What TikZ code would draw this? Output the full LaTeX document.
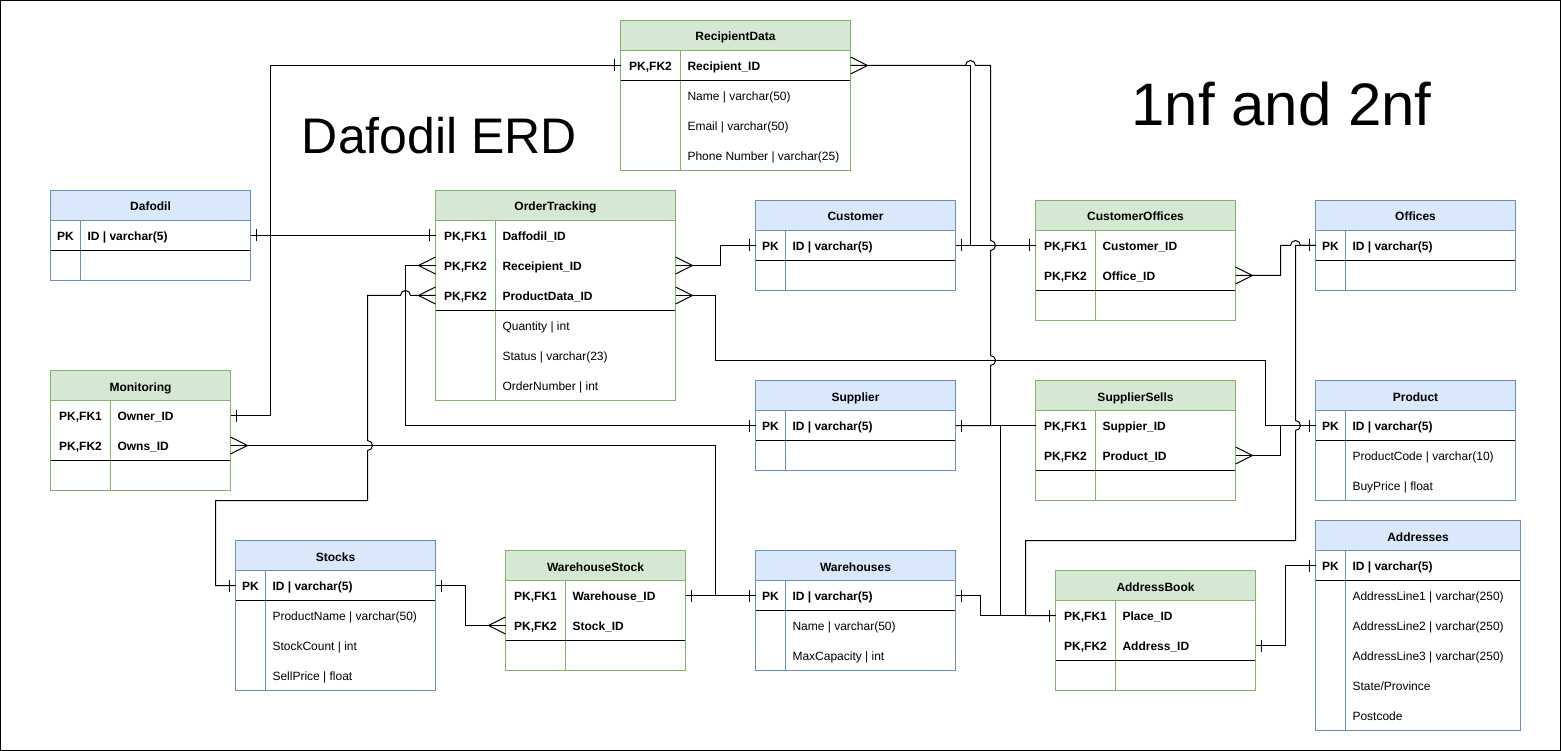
\documentclass[tikz,border=0pt]{standalone}
\usepackage{fontspec}
\setmainfont{Liberation Sans}
\usetikzlibrary{calc}
\definecolor{bfill}{HTML}{DAE8FC}
\definecolor{bline}{HTML}{6C8EBF}
\definecolor{gfill}{HTML}{D5E8D4}
\definecolor{gline}{HTML}{82B366}
\tikzset{
  conn/.style={draw=black, line width=1pt},
  tablebox/.style={anchor=north west, inner sep=0, outer sep=0, fill=white},
  headbox/.style={anchor=north west, inner sep=0, outer sep=0, minimum height=30},
  rowbox/.style={anchor=north west, inner sep=0, outer sep=0, minimum height=30},
  celltext/.style={inner sep=0, outer sep=0, font=\fontsize{12}{14}\selectfont, text=black},
  titletext/.style={inner sep=0, outer sep=0, anchor=base, text=black}
}
% #1 name #2 x #3 y #4 w #5 h #6 keyw #7 theme (b/g) #8 title #9 separator y
\newcommand{\ertable}[9]{%
  \node[tablebox, minimum width=#4, minimum height=#5] (#1) at (#2,#3) {};
  \node[headbox, fill=#7fill, minimum width=#4] (#1-h) at (#2,#3) {};
  \node[celltext, anchor=base, font=\fontsize{12}{14}\selectfont\bfseries] (#1-t) at (#2+#4/2,#3+20.5) {#8};
  \draw[#7line, line width=1pt] (#2+#6,#3+30) -- (#2+#6,#3+#5);
  \draw[black, line width=1pt] (#2,#9) -- (#2+#4,#9);
  \draw[#7line, line width=1pt] (#1.north west) rectangle (#1.south east);
  \draw[#7line, line width=1pt] (#1-h.south west) -- (#1-h.south east);
}
% #1 name #2 x #3 y #4 w #5 keyw #6 key #7 field
\newcommand{\errow}[7]{%
  \node[rowbox, minimum width=#4] (#1) at (#2,#3) {};
  \node[celltext, anchor=base] (#1-k) at (#2+#5/2,#3+20) {#6};
  \node[celltext, anchor=base west] (#1-f) at (#2+#5+7,#3+20) {#7};
}
\newcommand{\oneR}[1]{\draw[conn] ([xshift=6pt,yshift=6pt]#1) -- ([xshift=6pt,yshift=-6pt]#1);}
\newcommand{\oneL}[1]{\draw[conn] ([xshift=-6pt,yshift=6pt]#1) -- ([xshift=-6pt,yshift=-6pt]#1);}
\newcommand{\manyR}[1]{\draw[conn] ([yshift=8.5pt]#1) -- ([xshift=17pt]#1) -- ([yshift=-8.5pt]#1);}
\newcommand{\manyL}[1]{\draw[conn] ([yshift=8.5pt]#1) -- ([xshift=-17pt]#1) -- ([yshift=-8.5pt]#1);}
\begin{document}
\begin{tikzpicture}[x=1pt,y=-1pt]
\fill[white] (0,0) rectangle (1561,751);
\useasboundingbox (0,0) rectangle (1561,751);
\draw[black, line width=1pt] (0.5,0.5) rectangle (1560.5,750.5);

\node[titletext, font=\fontsize{50}{60}\selectfont] (title) at (439.5,154) {Dafodil ERD};
\node[titletext, font=\fontsize{60}{72}\selectfont] (subtitle) at (1281.5,126) {1nf and 2nf};

\begin{scope}[shift={(0.5,0.5)}]
% Dafodil
\ertable{daf}{50}{190}{200}{90}{30}{b}{Dafodil}{250}
\errow{daf-1}{50}{220}{200}{30}{\bfseries PK}{\bfseries ID | varchar(5)}
\errow{daf-2}{50}{250}{200}{30}{}{}
% Monitoring
\ertable{mon}{50}{370}{180}{120}{60}{g}{Monitoring}{460}
\errow{mon-1}{50}{400}{180}{60}{\bfseries PK,FK1}{\bfseries Owner\_ID}
\errow{mon-2}{50}{430}{180}{60}{\bfseries PK,FK2}{\bfseries Owns\_ID}
\errow{mon-3}{50}{460}{180}{60}{}{}
% RecipientData
\ertable{rec}{620}{20}{230}{150}{60}{g}{RecipientData}{80}
\errow{rec-1}{620}{50}{230}{60}{\bfseries PK,FK2}{\bfseries Recipient\_ID}
\errow{rec-2}{620}{80}{230}{60}{}{Name | varchar(50)}
\errow{rec-3}{620}{110}{230}{60}{}{Email | varchar(50)}
\errow{rec-4}{620}{140}{230}{60}{}{Phone Number | varchar(25)}
% OrderTracking
\ertable{ot}{435}{190}{240}{210}{60}{g}{OrderTracking}{310}
\errow{ot-1}{435}{220}{240}{60}{\bfseries PK,FK1}{\bfseries Daffodil\_ID}
\errow{ot-2}{435}{250}{240}{60}{\bfseries PK,FK2}{\bfseries Receipient\_ID}
\errow{ot-3}{435}{280}{240}{60}{\bfseries PK,FK2}{\bfseries ProductData\_ID}
\errow{ot-4}{435}{310}{240}{60}{}{Quantity | int}
\errow{ot-5}{435}{340}{240}{60}{}{Status | varchar(23)}
\errow{ot-6}{435}{370}{240}{60}{}{OrderNumber | int}
% Customer
\ertable{cus}{755}{200}{200}{90}{30}{b}{Customer}{260}
\errow{cus-1}{755}{230}{200}{30}{\bfseries PK}{\bfseries ID | varchar(5)}
\errow{cus-2}{755}{260}{200}{30}{}{}
% CustomerOffices
\ertable{co}{1035}{200}{200}{120}{60}{g}{CustomerOffices}{290}
\errow{co-1}{1035}{230}{200}{60}{\bfseries PK,FK1}{\bfseries Customer\_ID}
\errow{co-2}{1035}{260}{200}{60}{\bfseries PK,FK2}{\bfseries Office\_ID}
\errow{co-3}{1035}{290}{200}{60}{}{}
% Offices
\ertable{off}{1315}{200}{200}{90}{30}{b}{Offices}{260}
\errow{off-1}{1315}{230}{200}{30}{\bfseries PK}{\bfseries ID | varchar(5)}
\errow{off-2}{1315}{260}{200}{30}{}{}
% Supplier
\ertable{sup}{755}{380}{200}{90}{30}{b}{Supplier}{440}
\errow{sup-1}{755}{410}{200}{30}{\bfseries PK}{\bfseries ID | varchar(5)}
\errow{sup-2}{755}{440}{200}{30}{}{}
% SupplierSells
\ertable{ss}{1035}{380}{200}{120}{60}{g}{SupplierSells}{470}
\errow{ss-1}{1035}{410}{200}{60}{\bfseries PK,FK1}{\bfseries Suppier\_ID}
\errow{ss-2}{1035}{440}{200}{60}{\bfseries PK,FK2}{\bfseries Product\_ID}
\errow{ss-3}{1035}{470}{200}{60}{}{}
% Product
\ertable{prod}{1315}{380}{200}{120}{30}{b}{Product}{440}
\errow{prod-1}{1315}{410}{200}{30}{\bfseries PK}{\bfseries ID | varchar(5)}
\errow{prod-2}{1315}{440}{200}{30}{}{ProductCode | varchar(10)}
\errow{prod-3}{1315}{470}{200}{30}{}{BuyPrice | float}
% Addresses
\ertable{addr}{1315}{520}{205}{210}{30}{b}{Addresses}{580}
\errow{addr-1}{1315}{550}{205}{30}{\bfseries PK}{\bfseries ID | varchar(5)}
\errow{addr-2}{1315}{580}{205}{30}{}{AddressLine1 | varchar(250)}
\errow{addr-3}{1315}{610}{205}{30}{}{AddressLine2 | varchar(250)}
\errow{addr-4}{1315}{640}{205}{30}{}{AddressLine3 | varchar(250)}
\errow{addr-5}{1315}{670}{205}{30}{}{State/Province}
\errow{addr-6}{1315}{700}{205}{30}{}{Postcode}
% Stocks
\ertable{stk}{235}{540}{200}{150}{30}{b}{Stocks}{600}
\errow{stk-1}{235}{570}{200}{30}{\bfseries PK}{\bfseries ID | varchar(5)}
\errow{stk-2}{235}{600}{200}{30}{}{ProductName | varchar(50)}
\errow{stk-3}{235}{630}{200}{30}{}{StockCount | int}
\errow{stk-4}{235}{660}{200}{30}{}{SellPrice | float}
% WarehouseStock
\ertable{ws}{505}{550}{180}{120}{60}{g}{WarehouseStock}{640}
\errow{ws-1}{505}{580}{180}{60}{\bfseries PK,FK1}{\bfseries Warehouse\_ID}
\errow{ws-2}{505}{610}{180}{60}{\bfseries PK,FK2}{\bfseries Stock\_ID}
\errow{ws-3}{505}{640}{180}{60}{}{}
% Warehouses
\ertable{wh}{755}{550}{200}{120}{30}{b}{Warehouses}{610}
\errow{wh-1}{755}{580}{200}{30}{\bfseries PK}{\bfseries ID | varchar(5)}
\errow{wh-2}{755}{610}{200}{30}{}{Name | varchar(50)}
\errow{wh-3}{755}{640}{200}{30}{}{MaxCapacity | int}
% AddressBook
\ertable{ab}{1055}{570}{200}{120}{60}{g}{AddressBook}{660}
\errow{ab-1}{1055}{600}{200}{60}{\bfseries PK,FK1}{\bfseries Place\_ID}
\errow{ab-2}{1055}{630}{200}{60}{\bfseries PK,FK2}{\bfseries Address\_ID}
\errow{ab-3}{1055}{660}{200}{60}{}{}

% ---------- connectors ----------
\draw[conn] (daf-1.east) -- (ot-1.west);
\oneR{daf-1.east} \oneL{ot-1.west}

\draw[conn] (mon-1.east) -- (270,415) -- (270,65) -- (rec-1.west);
\oneR{mon-1.east} \oneL{rec-1.west}

\draw[conn] (mon-2.east) -- (715,445) -- (715,595) -- (wh-1.west);
\manyR{mon-2.east} \oneL{wh-1.west}

\draw[conn] (ot-2.west) -- (405,265) -- (405,425) -- (sup-1.west);
\manyL{ot-2.west} \oneL{sup-1.west}

\draw[conn] (ot-2.east) -- (720,265) -- (720,245) -- (cus-1.west);
\manyR{ot-2.east} \oneL{cus-1.west}

\draw[conn] (ot-3.west) -- (410,295) arc[start angle=0,end angle=180,radius=5pt] -- (367,295) -- (367,440) arc[start angle=90,end angle=-90,radius=5pt] -- (367,500) -- (215,500) -- (215,585) -- (stk-1.west);
\manyL{ot-3.west} \oneL{stk-1.west}

\draw[conn] (ot-3.east) -- (715,295) -- (715,360) -- (1265,360) -- (1265,425) -- (prod-1.west);
\manyR{ot-3.east} \oneL{prod-1.west}

\draw[conn] (cus-1.east) -- (970,245) -- (970,65) -- (rec-1.east);
\draw[conn] (rec-1.east) -- (965,65) arc[start angle=180,end angle=0,radius=5pt] -- (990,65) -- (990,240) arc[start angle=90,end angle=-90,radius=5pt] -- (990,355) arc[start angle=90,end angle=-90,radius=5pt] -- (990,425) -- (sup-1.east);
\manyR{rec-1.east} \oneR{sup-1.east} \oneR{cus-1.east}

\draw[conn] (cus-1.east) -- (co-1.west);
\oneL{co-1.west}

\draw[conn] (co-2.east) -- (1280,275) -- (1280,245) -- (1290,245) arc[start angle=180,end angle=0,radius=5pt] -- (off-1.west);
\manyR{co-2.east} \oneL{off-1.west}

\draw[conn] (sup-1.east) -- (ss-1.west);

\draw[conn] (ss-2.east) -- (1280,455) -- (1280,425) -- (prod-1.west);
\manyR{ss-2.east}

\draw[conn] (stk-1.east) -- (465,585) -- (465,625) -- (ws-2.west);
\oneR{stk-1.east} \manyL{ws-2.west}

\draw[conn] (ws-1.east) -- (wh-1.west);
\oneR{ws-1.east}

\draw[conn] (wh-1.east) -- (980,595) -- (980,615) -- (ab-1.west);
\oneR{wh-1.east} \oneL{ab-1.west}

\draw[conn] (sup-1.east) -- (1000,425) -- (1000,615) -- (ab-1.west);

\draw[conn] (ab-1.west) -- (1025,615) -- (1025,540) -- (1295,540) -- (1295,430) arc[start angle=-90,end angle=90,radius=5pt] -- (1295,245) -- (off-1.west);

\draw[conn] (ab-2.east) -- (1285,645) -- (1285,565) -- (addr-1.west);
\oneR{ab-2.east} \oneL{addr-1.west}
\end{scope}
\end{tikzpicture}
\end{document}
